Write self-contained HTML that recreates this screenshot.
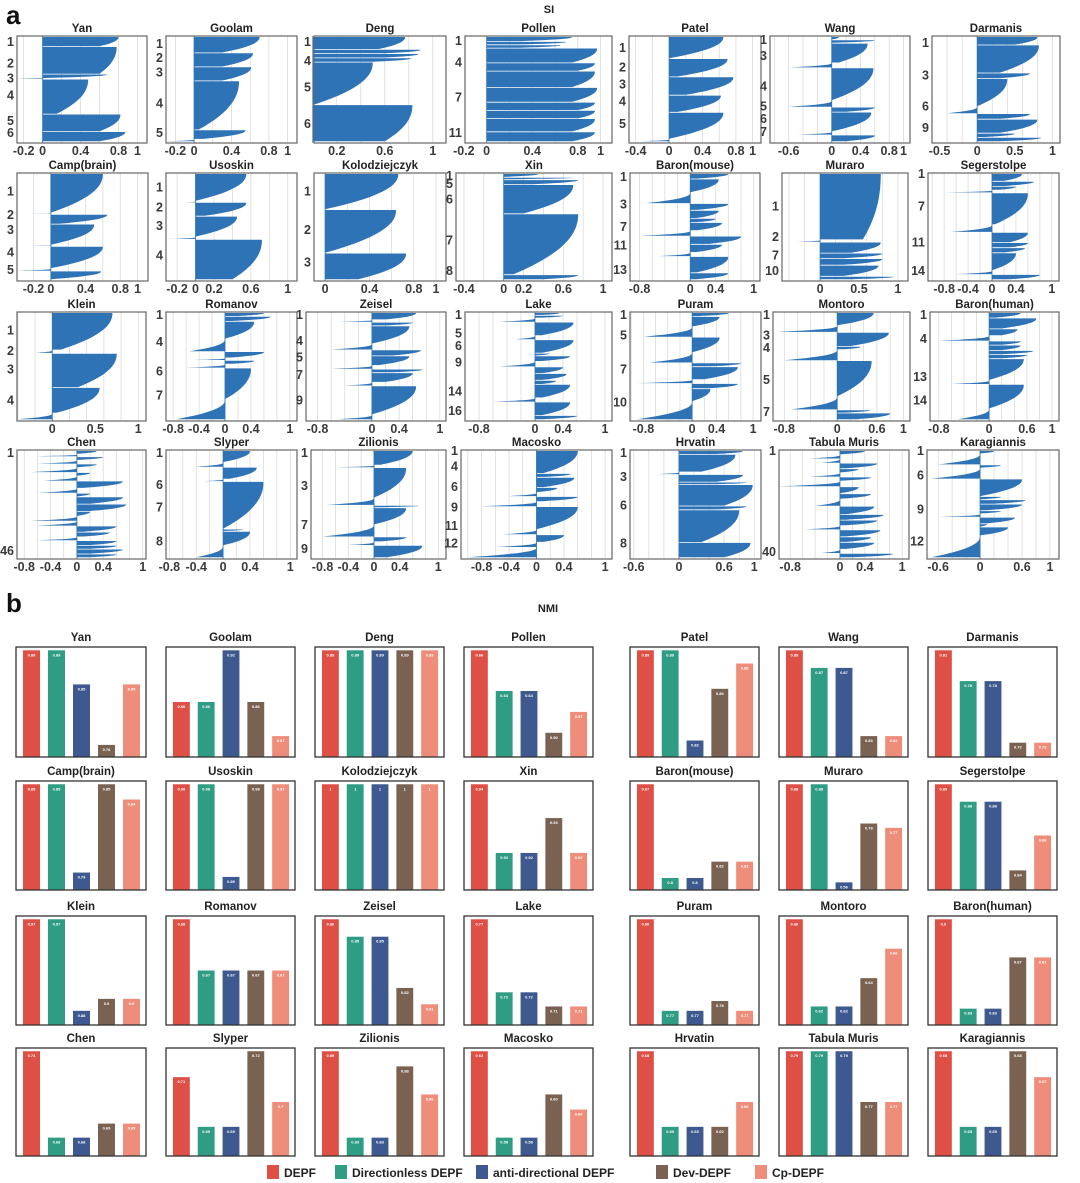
<!DOCTYPE html>
<html><head><meta charset="utf-8">
<style>
html,body{margin:0;padding:0;background:#fff;}
svg{display:block;font-family:"Liberation Sans",Arial,sans-serif;}
.t{font-weight:bold;font-size:11.5px;fill:#222;}
.tk{font-weight:bold;font-size:12.5px;fill:#3a3a3a;}
</style></head>
<body>
<svg id="fig" width="1080" height="1183" viewBox="0 0 1080 1183" xmlns="http://www.w3.org/2000/svg">
<text x="6" y="24" style="font-weight:bold;font-size:26px;fill:#111">a</text>
<text x="549" y="13" text-anchor="middle" style="font-weight:bold;font-size:11px;fill:#222">SI</text>
<text x="6" y="612" style="font-weight:bold;font-size:26px;fill:#111">b</text>
<text x="548" y="612" text-anchor="middle" style="font-weight:bold;font-size:11px;fill:#222">NMI</text>
<g id="pa"></g>
<g id="pb"></g>
<g id="legend"></g>
</svg>
<script>
// ===== Panel a data =====
const datasetNames = ["Yan","Goolam","Deng","Pollen","Patel","Wang","Darmanis","Camp(brain)","Usoskin","Kolodziejczyk","Xin","Baron(mouse)","Muraro","Segerstolpe","Klein","Romanov","Zeisel","Lake","Puram","Montoro","Baron(human)","Chen","Slyper","Zilionis","Macosko","Hrvatin","Tabula Muris","Karagiannis"];
const siXRanges = [[-0.27,1.1],[-0.3,1.1],[0.01,1.11],[-0.19,1.1],[-0.48,1.1],[-0.86,1.09],[-0.6,1.1],[-0.39,1.12],[-0.32,1.1],[-0.1,1.09],[-0.48,1.09],[-0.95,1.1],[-0.49,1.13],[-1.07,1.12],[-0.41,1.09],[-0.91,1.11],[-0.97,1.09],[-1.0,1.1],[-1.02,1.13],[-0.97,1.1],[-0.94,1.11],[-0.91,1.05],[-0.85,1.1],[-0.98,1.12],[-1.1,1.1],[-0.65,1.09],[-0.98,1.11],[-0.76,1.13]];
const siXTicks = [[-0.2,0,0.4,0.8,1],[-0.2,0,0.4,0.8,1],[0.2,0.6,1],[-0.2,0,0.4,0.8,1],[-0.4,0,0.4,0.8,1],[-0.6,0,0.4,0.8,1],[-0.5,0,0.5,1],[-0.2,0,0.4,0.8,1],[-0.2,0,0.2,0.6,1],[0,0.4,0.8,1],[-0.4,0,0.2,0.6,1],[-0.8,0,0.4,1],[0,0.5,1],[-0.8,-0.4,0,0.4,1],[0,0.5,1],[-0.8,-0.4,0,0.4,1],[-0.8,0,0.4,1],[-0.8,0,0.4,1],[-0.8,0,0.4,1],[-0.8,0,0.6,1],[-0.8,0,0.6,1],[-0.8,-0.4,0,0.4,1],[-0.8,-0.4,0,0.4,1],[-0.8,-0.4,0,0.4,1],[-0.8,-0.4,0,0.4,1],[-0.6,0,0.6,1],[-0.8,0,0.4,1],[-0.6,0,0.6,1]];
// clusters: [size, max SI, min SI]
const siClusters = [
 [[8,.8,.6],[22,.78,.6],[4,.68,-.28],[28,.48,.15],[14,.82,.6],[8,.87,.6]],
 [[14,.7,.3],[12,.63,.3],[12,.61,.3],[42,.48,.05],[8,.55,.1],[2,0,-.3]],
 [[9,.77,.55],[3,.9,.6],[3,.88,.6],[3,.82,.5],[30,.5,.02],[26,.83,.6]],
 [[3,.75,.3],[2,.7,.3],[2,.65,.3],[9,.97,.75],[5,.95,.8],[10,.95,.75],[9,.97,.75],[5,.95,.8],[5,.95,.8],[8,.95,.75],[6,.95,.75]],
 [[18,.65,0],[15,.7,.1],[15,.77,.2],[14,.62,.1],[22,.65,0],[2,0,-.35]],
 [[2,.1,0],[2,.6,0],[12,.5,.1],[3,0,-.6],[20,.58,0],[4,0,-.6],[3,.6,.2],[12,.55,0],[2,0,-.5],[4,.6,.2]],
 [[6,.8,.5],[20,.82,.3],[4,.7,.3],[20,.4,0],[5,0,-.4],[4,.7,.3],[10,.8,.3],[3,.5,.1],[3,.85,.3]],
 [[32,.6,0],[1,0,-.3],[8,.65,.1],[17,.5,0],[1,0,-.25],[18,.6,0],[2,0,-.4],[7,.58,0]],
 [[24,.55,0],[1,0,-.1],[12,.55,.1],[18,.45,0],[2,0,-.3],[35,.72,.4]],
 [[34,.66,0],[41,.64,0],[25,.73,.3]],
 [[3,.35,0],[2,.7,0],[4,.75,.3],[24,.7,.2],[50,.75,.1],[4,.75,.4]],
 [[4,.6,.1],[10,.45,0],[8,0,-.7],[5,.6,.1],[6,.45,.1],[3,.4,.1],[6,.5,.1],[4,0,-.8],[6,.8,.3],[6,.5,.1],[3,0,-.5],[12,.6,.1],[5,.6,.1]],
 [[60,.78,.55],[2,0,-.3],[10,.78,.4],[5,.8,.3],[6,.8,.3],[10,.75,.3],[3,.95,.4]],
 [[6,.5,.2],[4,.7,.2],[3,.4,.1],[2,0,-.8],[25,.6,.05],[6,0,-.7],[8,.6,.3],[4,.6,.3],[4,.55,.2],[14,.4,0],[3,0,-.6],[4,.8,.3]],
 [[35,.7,.1],[3,0,-.2],[32,.75,.3],[24,.55,.05],[6,0,-.4]],
 [[3,.6,.2],[4,.7,.1],[14,.45,0],[10,0,-.55],[5,.6,.1],[2,0,-.5],[3,.45,.1],[3,0,-.6],[25,.4,0],[16,0,-.75]],
 [[6,.65,.2],[2,0,-.6],[3,.6,.2],[15,.55,0],[5,0,-.6],[5,.72,.3],[8,.55,.1],[3,0,-.6],[3,.75,.3],[8,.6,.2],[3,0,-.4],[24,.65,0],[4,0,-.5]],
 [[2,.35,.1],[2,.4,.1],[3,0,-.5],[10,.55,.1],[3,0,-.3],[10,.55,.1],[2,.2,0],[4,.5,.1],[4,0,-.5],[5,.4,.1],[5,.45,.1],[3,.3,.1],[10,.5,.1],[3,0,-.6],[10,.5,.1],[3,.6,.1]],
 [[3,.6,.1],[8,.45,0],[8,0,-.8],[12,.45,0],[8,0,-.7],[3,.8,.3],[10,.75,.2],[3,0,-.9],[4,.75,.3],[10,.3,0],[14,0,-.9]],
 [[12,.55,0],[6,0,-.9],[13,.78,.2],[3,.35,.1],[10,0,-.8],[33,.52,0],[12,0,-.7],[3,.5,.1],[6,.8,.3]],
 [[4,.5,.1],[8,.75,.2],[5,.45,.2],[4,0,-.8],[3,.5,.2],[4,.5,.2],[3,.7,.2],[3,.6,.2],[16,.55,0],[3,0,-.6],[18,.55,0],[8,0,-.5]],
 [[3,.3,0],[2,0,-.7],[3,.4,0],[3,0,-.6],[3,.3,0],[4,0,-.7],[3,.2,0],[4,0,-.5],[6,.7,.1],[4,0,-.6],[3,.2,0],[6,.7,.2],[6,.75,.2],[4,.2,0],[4,0,-.7],[4,0,-.6],[5,.6,.1],[4,.5,.1],[3,0,-.6],[4,.6,.2],[3,.6,.2],[4,.7,.2],[3,.6,.2]],
 [[10,.4,0],[4,0,-.45],[10,.5,.1],[2,0,-.3],[40,.6,0],[2,.3,0],[12,.4,0],[10,0,-.4]],
 [[12,.6,.1],[2,0,-.6],[25,.5,0],[6,0,-.75],[2,.7,0],[14,.5,0],[10,0,-.8],[4,.5,.1],[3,0,-.4],[10,.75,.2]],
 [[18,.6,.1],[3,.5,.1],[8,.55,.1],[4,.3,0],[3,0,-.4],[4,.6,.1],[4,0,-.8],[18,.6,0],[4,0,-.5],[6,.4,.1],[4,0,-.6],[8,0,-1]],
 [[3,.85,.5],[14,.75,.3],[2,0,-.3],[6,.85,.5],[2,.9,.5],[17,.98,.6],[3,.9,.5],[26,.8,.3],[12,.95,.6]],
 [[3,.4,0],[3,0,-.5],[3,0,-.3],[4,.6,.1],[3,.3,0],[3,0,-.5],[3,.5,0],[4,0,-1],[5,.3,0],[4,.5,0],[5,0,-.4],[6,.55,.1],[4,.7,.1],[4,.6,.1],[3,0,-.6],[5,.65,.1],[4,.5,.1],[5,.55,.1],[3,0,-.3],[3,.85,.2]],
 [[3,.2,0],[10,0,-.6],[3,.3,0],[10,0,-.7],[16,.6,0],[3,.3,0],[4,.65,.2],[6,.6,.1],[3,.3,0],[3,0,-.6],[6,.5,.1],[3,.1,0],[8,.4,0],[20,0,-.7]]
];
// y-axis cluster labels: [text, fraction of height]
const siYLabels = [
 [["1",.05],["2",.26],["3",.41],["4",.58],["5",.83],["6",.95]],
 [["1",.07],["2",.21],["3",.35],["4",.66],["5",.95]],
 [["1",.05],["4",.24],["5",.5],["6",.86]],
 [["1",.04],["4",.25],["7",.6],["11",.95]],
 [["1",.11],["2",.3],["3",.47],["4",.64],["5",.86]],
 [["1",.03],["3",.19],["4",.49],["5",.69],["6",.81],["7",.94]],
 [["1",.06],["3",.38],["6",.69],["9",.9]],
 [["1",.17],["2",.4],["3",.55],["4",.77],["5",.94]],
 [["1",.13],["2",.33],["3",.51],["4",.8]],
 [["1",.17],["2",.55],["3",.87]],
 [["1",.02],["5",.1],["6",.25],["7",.65],["8",.95]],
 [["1",.03],["3",.3],["7",.52],["11",.7],["13",.94]],
 [["1",.32],["2",.62],["7",.8],["10",.95]],
 [["1",.0],["7",.32],["11",.67],["14",.95]],
 [["1",.17],["2",.37],["3",.55],["4",.85]],
 [["1",.02],["4",.28],["6",.57],["7",.8]],
 [["1",.02],["4",.27],["5",.43],["7",.6],["9",.85]],
 [["1",.02],["5",.2],["6",.32],["9",.48],["14",.76],["16",.95]],
 [["1",.02],["5",.22],["7",.55],["10",.87]],
 [["1",.02],["3",.22],["4",.34],["5",.65],["7",.96]],
 [["1",.02],["4",.25],["13",.62],["14",.85]],
 [["1",.02],["46",.97]],
 [["1",.02],["6",.33],["7",.55],["8",.88]],
 [["1",.02],["3",.34],["7",.72],["9",.95]],
 [["1",.0],["4",.15],["6",.35],["9",.55],["11",.73],["12",.9]],
 [["1",.02],["3",.25],["6",.53],["8",.9]],
 [["1",.0],["40",.98]],
 [["1",.0],["6",.24],["9",.57],["12",.88]]
];
// ===== Panel b data =====
const methods = ["DEPF","Directionless DEPF","anti-directional DEPF","Dev-DEPF","Cp-DEPF"];
const nmiHeights = [
 [.97,.97,.66,.11,.66],[.50,.50,.97,.50,.19],[.97,.97,.97,.97,.97],[.97,.60,.60,.22,.41],[.97,.97,.15,.62,.85],[.97,.81,.81,.19,.19],[.97,.69,.69,.13,.13],
 [.97,.97,.16,.97,.83],[.97,.97,.12,.97,.97],[.97,.97,.97,.97,.97],[.97,.34,.34,.66,.34],[.97,.11,.11,.26,.26],[.97,.97,.07,.61,.57],[.97,.81,.81,.18,.50],
 [.97,.97,.13,.24,.24],[.97,.50,.50,.50,.50],[.97,.81,.81,.34,.19],[.97,.30,.30,.17,.17],[.97,.13,.13,.22,.13],[.97,.17,.17,.43,.70],[.97,.15,.15,.62,.62],
 [.97,.17,.17,.30,.30],[.73,.27,.27,.97,.50],[.97,.17,.17,.83,.57],[.97,.17,.17,.57,.43],[.97,.27,.27,.27,.50],[.97,.97,.97,.50,.50],[.97,.27,.27,.97,.73]
];
const nmiLabels = [
 ["0.89","0.89","0.85","0.78","0.85"],["0.86","0.86","0.92","0.86","0.87"],["0.89","0.89","0.89","0.89","0.89"],["0.66","0.64","0.64","0.50","0.57"],["0.89","0.89","0.82","0.86","0.88"],["0.89","0.87","0.87","0.83","0.82"],["0.81","0.78","0.78","0.72","0.72"],
 ["0.85","0.85","0.79","0.85","0.84"],["0.98","0.98","0.89","0.98","0.97"],["1","1","1","1","1"],["0.94","0.92","0.92","0.93","0.92"],["0.87","0.8","0.8","0.82","0.82"],["0.88","0.88","0.56","0.78","0.77"],["0.89","0.88","0.88","0.84","0.86"],
 ["0.97","0.97","0.88","0.9","0.9"],["0.88","0.67","0.67","0.67","0.67"],["0.86","0.85","0.85","0.82","0.81"],["0.77","0.72","0.72","0.71","0.71"],["0.80","0.77","0.77","0.78","0.77"],["0.68","0.62","0.62","0.64","0.66"],["0.9","0.83","0.83","0.87","0.87"],
 ["0.74","0.68","0.68","0.69","0.69"],["0.71","0.69","0.69","0.72","0.7"],["0.89","0.83","0.83","0.88","0.86"],["0.62","0.58","0.58","0.60","0.60"],["0.68","0.60","0.60","0.60","0.66"],["0.79","0.79","0.79","0.77","0.77"],["0.68","0.65","0.65","0.68","0.67"]
];
const colors = ["#de4f46","#2f9c84","#3d5990","#7a6252","#ee8d7a"];

const NS="http://www.w3.org/2000/svg";
function mk(tag, attrs, parent){const e=document.createElementNS(NS,tag);for(const k in attrs)e.setAttribute(k,attrs[k]);parent.appendChild(e);return e;}

const rowsA=[[36,143],[173,281],[312,421],[450,559]];
const colsA=[[17,147],[166,297],[314,446],[465,612],[629,761],[770,910],[932,1060],
 [17,148],[166,297],[314,446],[456,612],[630,760],[782,908],[928,1059],
 [17,146],[166,297],[306,446],[465,612],[630,761],[773,910],[930,1059],
 [17,146],[166,297],[311,446],[461,612],[630,761],[779,909],[927,1059]];
const pa=document.getElementById('pa');
datasetNames.forEach((name,i)=>{
  const r=Math.floor(i/7);const [y0,y1]=rowsA[r];const [x0,x1]=colsA[i];
  const [vmin,vmax]=siXRanges[i];
  const xs=v=>x0+(v-vmin)/(vmax-vmin)*(x1-x0);
  const g=mk('g',{},pa);
  
  
  const tt=mk('text',{x:(x0+x1)/2,y:y0-4,'text-anchor':'middle',class:'t'},g);tt.textContent=name;
  
  
  for(let v=Math.ceil(vmin*5)/5; v<=vmax; v+=0.2){const gx=xs(v);mk('line',{x1:gx,x2:gx,y1:y0,y2:y1,stroke:'#d6d6d6','stroke-width':0.7},g);}
  const cl=siClusters[i];const tot=cl.reduce((s,c)=>s+c[0],0);let yy=y0+1;const H=y1-y0-2;
  cl.forEach(c=>{
    const h=c[0]/tot*H;const mx=c[1],mn=c[2];const pts=[[xs(0),yy]];
    const N=14;
    for(let k=0;k<=N;k++){const t=k/N;const v=mx-(mx-mn)*Math.pow(t,2.2);pts.push([xs(v),yy+t*Math.max(h-0.8,0.5)]);}
    pts.push([xs(0),yy+Math.max(h-0.8,0.5)]);
    const p=mk('polygon',{points:pts.map(q=>q[0].toFixed(1)+','+q[1].toFixed(1)).join(' '),fill:'#2f73b7'},g);
    
    
    yy+=h;
  });
  mk('line',{x1:xs(0),x2:xs(0),y1:y0,y2:y1,stroke:'#2f73b7','stroke-width':0.8},g);
  mk('rect',{x:x0,y:y0,width:x1-x0,height:y1-y0,fill:'none',stroke:'#666','stroke-width':1.2},g);
  siXTicks[i].forEach(v=>{const t=mk('text',{x:xs(v),y:y1+12,'text-anchor':'middle',class:'tk'},g);t.textContent=String(v);
    
    });
  siYLabels[i].forEach(l=>{const t=mk('text',{x:x0-3,y:y0+5+l[1]*(y1-y0-6),'text-anchor':'end',class:'tk'},g);t.textContent=l[0];
    
    });
});

const rowsB=[[647,757],[781,890],[916,1025],[1048,1156]];
const colsB=[[16,146],[166,295],[315,444],[464,593],[630,759],[779,908],[928,1057]];
const pb=document.getElementById('pb');
datasetNames.forEach((name,i)=>{
  const r=Math.floor(i/7);const [y0,y1]=rowsB[r];const [x0,x1]=colsB[i%7];
  const g=mk('g',{},pb);
  
  
  const tt=mk('text',{x:(x0+x1)/2,y:y0-6,'text-anchor':'middle',class:'t'},g);tt.textContent=name;
  
  
  const H=y1-y0;const bw=(x1-x0)*17/130;const step=(x1-x0)*25/130;
  nmiHeights[i].forEach((hv,j)=>{
    const bx=x0+(x1-x0)*7/130+j*step;const bh=hv*H;
    const b=mk('rect',{x:bx,y:y1-bh,width:bw,height:bh,fill:colors[j]},g);
    
    
    const t=mk('text',{x:bx+bw/2,y:y1-bh+6,'text-anchor':'middle',style:'font-size:4px;font-weight:bold;fill:#fff'},g);t.textContent=nmiLabels[i][j];
    
    
  });
  mk('rect',{x:x0,y:y0,width:x1-x0,height:H,fill:'none',stroke:'#333','stroke-width':1.3},g);
});

const lg=document.getElementById('legend');
const legX=[267,335,476,656,755];
methods.forEach((m,j)=>{
  const s=mk('rect',{x:legX[j],y:1165,width:12,height:14,fill:colors[j]},lg);
  
  
  const t=mk('text',{x:legX[j]+17,y:1177,style:'font-size:12px;font-weight:bold;fill:#222'},lg);t.textContent=m;
  
  
});
</script>
</body></html>
